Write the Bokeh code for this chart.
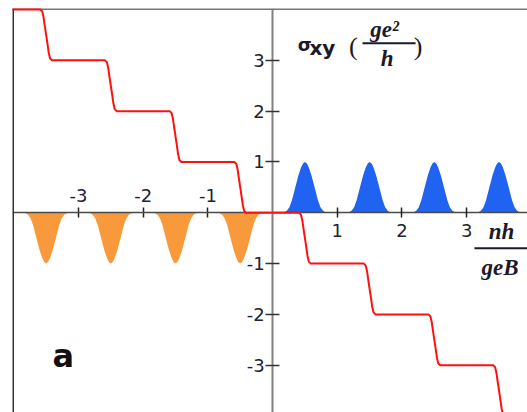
from bokeh.plotting import figure
from bokeh.models import LinearAxis, FixedTicker, Range1d, Span, Label
from bokeh.embed import file_html
from bokeh.resources import INLINE

# ---- data ----
x_ticks_pos = [1, 2, 3]
x_ticks_neg = [-3, -2, -1]
y_ticks = [-3, -2, -1, 1, 2, 3]

peak_centers_pos = [0.5, 1.5, 2.5, 3.5]       # blue peaks (height +1)
peak_centers_neg = [-3.5, -2.5, -1.5, -0.5]   # orange dips (height -1)
peak_dx = [-0.36, -0.32, -0.28, -0.24, -0.20, -0.15, -0.10, -0.06, -0.03, 0.0,
           0.03, 0.06, 0.10, 0.15, 0.20, 0.24, 0.28, 0.32, 0.36]
peak_h = [0.0, 0.01, 0.04, 0.11, 0.25, 0.50, 0.74, 0.89, 0.97, 1.0,
          0.97, 0.89, 0.74, 0.50, 0.25, 0.11, 0.04, 0.01, 0.0]

step_centers = [-3.5, -2.5, -1.5, -0.5, 0.5, 1.5, 2.5, 3.5]
plateaus = [4, 3, 2, 1, 0, -1, -2, -3, -4]
step_dx = [-0.09, -0.06, -0.04, -0.02, 0.0, 0.02, 0.04, 0.06, 0.09]
step_frac = [0.0, 0.04, 0.15, 0.33, 0.5, 0.67, 0.85, 0.96, 1.0]

X0, X1 = -4.02, 3.94
Y0, Y1 = -3.93, 4.02

# ---- build sources ----
sx, sy = [X0], [plateaus[0]]
for i, c in enumerate(step_centers):
    a, b = plateaus[i], plateaus[i + 1]
    for d, f in zip(step_dx, step_frac):
        sx.append(c + d)
        sy.append(a + (b - a) * f)
sx.append(X1)
sy.append(plateaus[-1])

def peaks(centers, sign):
    xs, ys = [], []
    for c in centers:
        for d, h in zip(peak_dx, peak_h):
            xs.append(c + d)
            ys.append(sign * h)
    return xs, ys

bx, by = peaks(peak_centers_pos, 1)
ox, oy = peaks(peak_centers_neg, -1)

p = figure(width=527, height=412, output_backend="svg", toolbar_location=None,
           x_range=Range1d(X0, X1), y_range=Range1d(Y0, Y1),
           x_axis_location=None, y_axis_location=None,
           min_border_left=12, min_border_top=8, min_border_right=0, min_border_bottom=0)
p.grid.visible = False
p.outline_line_color = None
p.background_fill_color = "white"

# fills
p.varea(x=bx, y1=[0] * len(bx), y2=by, fill_color="#1f63f0")
p.varea(x=ox, y1=[0] * len(ox), y2=oy, fill_color="#f89a3c")

# frame borders (left and top only)
p.add_layout(Span(location=X0 + 0.008, dimension="height", line_color="#333333", line_width=2))
p.add_layout(Span(location=Y1 - 0.01, dimension="width", line_color="#777777", line_width=2))

lab_font = "DejaVu Sans"
def style_axis(ax, ticks):
    ax.major_label_text_font = lab_font
    ax.major_label_text_font_size = "18px"
    ax.major_label_text_color = "#222233"
    ax.minor_tick_line_color = None
    ax.major_tick_line_color = "#222222"
    ax.major_tick_line_width = 1.5
    ax.major_label_overrides = {t: str(t) for t in ticks}

xb = LinearAxis(fixed_location=0, ticker=FixedTicker(ticks=x_ticks_pos))
style_axis(xb, x_ticks_pos)
xb.axis_line_color = "#4a4a4a"
xb.axis_line_width = 1.5
xb.major_tick_in = 5
xb.major_tick_out = 5
xb.major_label_standoff = 6
p.add_layout(xb, "below")

xa = LinearAxis(fixed_location=0, ticker=FixedTicker(ticks=x_ticks_neg))
style_axis(xa, x_ticks_neg)
xa.axis_line_color = None
xa.major_tick_in = 5
xa.major_tick_out = 5
xa.major_label_standoff = 6
p.add_layout(xa, "above")

yl = LinearAxis(fixed_location=0, ticker=FixedTicker(ticks=y_ticks))
style_axis(yl, y_ticks)
yl.axis_line_color = "#808080"
yl.axis_line_width = 2
yl.major_tick_in = 7
yl.major_tick_out = 7
yl.major_tick_line_color = "#333333"
yl.major_label_standoff = 1
p.add_layout(yl, "left")

# staircase on top
st = p.line(sx, sy, line_color="#ff1010", line_width=2)
st.level = "overlay"

serif = "Liberation Serif"
def lab(x, y, t, size, font=lab_font, style="normal", align="left", color="#1a1a2a"):
    p.add_layout(Label(x=x, y=y, text=t, text_font=font, text_font_size=size,
                       text_font_style=style, text_align=align,
                       text_baseline="alphabetic", text_color=color))

lab(-3.40, -2.81, "a", "32px", style="bold", color="#111111")
lab(0.39, 3.32, "σ", "18px", style="bold")
lab(0.57, 3.25, "xy", "20px", style="bold")
lab(1.18, 3.27, "(", "26px", font=serif)
lab(1.73, 3.61, "ge²", "23px", font=serif, style="bold italic", align="center")
lab(1.77, 3.04, "h", "23px", font=serif, style="bold italic", align="center")
lab(2.18, 3.27, ")", "26px", font=serif)
lab(3.34, -0.366, "nh", "23px", font=serif, style="bold italic")
lab(3.23, -1.075, "geB", "23px", font=serif, style="bold italic")

p.segment(x0=[1.39], y0=[3.337], x1=[2.21], y1=[3.337], line_color="#1a1a2a", line_width=2)
p.segment(x0=[3.12], y0=[-0.70], x1=[3.94], y1=[-0.70], line_color="#1a1a2a", line_width=2)

open("out.html", "w").write(file_html(p, INLINE))
